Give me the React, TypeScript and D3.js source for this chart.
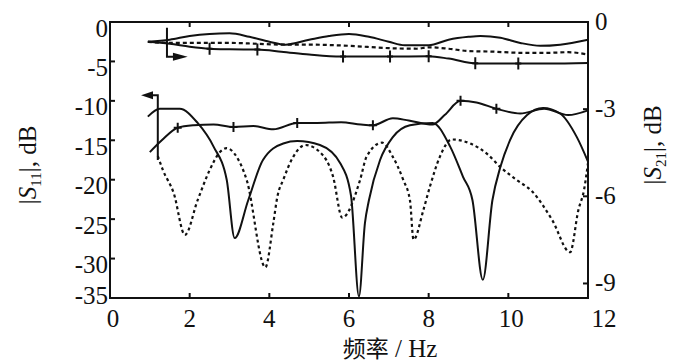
import React, { useRef, useEffect } from "react";
import * as d3 from "d3";

// |S11| (left axis, dB): [frequency, dB]
const s11Plain = [
  [0.95, -12.0], [1.25, -11.0], [1.75, -11.0], [2.2, -12.8], [2.6, -15.8],
  [2.93, -20.0], [3.13, -27.4], [3.47, -22.6], [3.84, -17.5],
  [4.35, -15.4], [4.7, -15.1], [5.27, -15.6], [5.78, -17.9], [6.05, -22.0],
  [6.25, -34.8], [6.4, -25.5], [6.5, -22.6], [6.78, -17.5], [7.1, -14.6],
  [7.53, -13.1], [8.1, -12.8], [8.54, -15.8], [8.86, -19.6], [9.1, -22.6],
  [9.36, -32.7], [9.6, -22.6], [9.8, -18.4], [10.04, -15.0], [10.47, -11.8],
  [10.87, -10.9], [11.3, -11.6], [11.72, -14.6], [12.0, -17.7],
];
const s11Dashed = [
  [1.2, -17.0], [1.33, -18.8], [1.6, -21.7], [1.88, -27.0], [2.2, -22.6],
  [2.5, -18.8], [2.76, -16.5], [2.93, -16.0], [3.18, -17.1], [3.43, -20.0],
  [3.9, -31.1], [4.1, -25.5], [4.2, -22.2], [4.35, -20.0], [4.6, -17.1],
  [4.9, -15.6], [5.27, -16.5], [5.6, -19.6], [5.83, -24.8],
  [6.28, -20.0], [6.44, -17.1], [6.83, -15.3], [7.1, -17.1], [7.36, -20.0],
  [7.53, -22.6], [7.62, -27.6], [7.87, -23.8], [8.03, -20.9], [8.28, -17.1],
  [8.58, -14.9], [9.04, -15.4], [9.46, -16.7], [9.8, -18.4], [10.2, -20.0],
  [10.6, -21.5], [11.1, -25.1], [11.55, -29.2], [11.76, -23.8], [11.9, -21.3],
  [12.0, -17.9],
];
const s11Cross = [
  [1.0, -16.5], [1.3, -15.0], [1.7, -13.4], [2.1, -13.1], [2.6, -13.0],
  [3.1, -13.3], [3.6, -13.2], [4.1, -13.6], [4.7, -12.8], [5.2, -12.8],
  [5.8, -12.7], [6.3, -13.0], [6.6, -13.1], [7.1, -12.2], [7.5, -12.5],
  [8.1, -13.0], [8.4, -11.8], [8.8, -10.0], [9.2, -10.2], [9.7, -11.0],
  [10.3, -11.6], [10.9, -11.0], [11.5, -11.8], [12.0, -11.2],
];
const s11CrossMarks = [1.7, 3.1, 4.7, 6.6, 8.8, 9.7];

// |S21| (right axis, dB)
const s21Plain = [
  [0.95, -0.68], [1.5, -0.61], [2.0, -0.48], [2.5, -0.41], [3.0, -0.39],
  [3.5, -0.51], [4.0, -0.68], [4.4, -0.78], [5.0, -0.61], [5.5, -0.48],
  [6.0, -0.41], [6.5, -0.51], [7.0, -0.68], [7.4, -0.8], [8.0, -0.8],
  [8.5, -0.61], [9.0, -0.51], [9.3, -0.48], [9.8, -0.54], [10.3, -0.72],
  [10.8, -0.82], [11.3, -0.78], [12.0, -0.61],
];
const s21Dashed = [
  [0.95, -0.68], [1.5, -0.72], [2.0, -0.72], [3.0, -0.72], [3.7, -0.75],
  [4.3, -0.78], [5.0, -0.78], [6.0, -0.82], [7.0, -0.9], [7.7, -0.92],
  [8.0, -0.87], [8.5, -0.92], [9.0, -1.0], [9.6, -1.02], [10.3, -1.06],
  [11.0, -1.06], [11.5, -1.04], [12.0, -1.12],
];
const s21Cross = [
  [0.95, -0.68], [1.5, -0.75], [2.0, -0.85], [2.5, -0.92], [3.0, -0.94],
  [3.7, -0.95], [4.3, -1.02], [5.0, -1.12], [5.8, -1.19], [7.0, -1.19],
  [8.0, -1.18], [8.5, -1.26], [9.2, -1.43], [10.2, -1.43], [11.0, -1.43],
  [12.0, -1.41],
];
const s21CrossMarks = [2.5, 3.7, 5.85, 7.03, 8.0, 9.17, 10.25];

const xTicks = [0, 2, 4, 6, 8, 10, 12];
const leftTicks = [0, -5, -10, -15, -20, -25, -30, -35];
const rightTicks = [0, -3, -6, -9];

const serif = "'Liberation Serif', 'Times New Roman', serif";

const App = () => {
  const svgRef = useRef(null);

  useEffect(() => {
    const svg = d3.select(svgRef.current);
    svg.selectAll("*").remove();

    // plot box
    const x = d3.scaleLinear().domain([0, 12]).range([110, 588]);
    const yL = d3.scaleLinear().domain([-35, 0]).range([298, 22]);
    const yR = d3.scaleLinear().domain([-9.5, 0]).range([298, 22]);

    const g = svg.append("g");

    // value of a series at f (for the marker positions)
    const valueAt = (s, f) => {
      const i = Math.max(1, Math.min(s.length - 1, d3.bisector((d) => d[0]).left(s, f)));
      const a = s[i - 1], b = s[i];
      return a[1] + ((f - a[0]) / (b[0] - a[0])) * (b[1] - a[1]);
    };

    const drawLine = (s, y, dash) => {
      const line = d3.line()
        .x((d) => x(d[0]))
        .y((d) => y(d[1]))
        .curve(d3.curveMonotoneX);
      g.append("path")
        .attr("d", line(s))
        .attr("fill", "none")
        .attr("stroke", "#111")
        .attr("stroke-width", dash ? 2.2 : 2)
        .attr("stroke-dasharray", dash || null)
        .attr("stroke-linejoin", "round");
    };

    const drawMarks = (s, marks, y, h, w) => {
      marks.forEach((f) => {
        const cx = x(f), cy = y(valueAt(s, f));
        g.append("path")
          .attr("d", `M${cx},${cy - h}V${cy + h}M${cx - w},${cy}H${cx + w}`)
          .attr("stroke", "#111")
          .attr("stroke-width", 2);
      });
    };

    // S21 group
    drawLine(s21Plain, yR);
    drawLine(s21Dashed, yR, "4,3");
    drawLine(s21Cross, yR);
    drawMarks(s21Cross, s21CrossMarks, yR, 6, 3);

    // S11 group
    drawLine(s11Plain, yL);
    drawLine(s11Dashed, yL, "3,3");
    drawLine(s11Cross, yL);
    drawMarks(s11Cross, s11CrossMarks, yL, 5, 4);

    // arrow telling S21 uses the right axis
    const ax = x(1.43);
    const ay = yR(-1.2);
    g.append("path")
      .attr("d", `M${ax},${yR(-0.2)}V${ay}H${x(1.6)}`)
      .attr("fill", "none")
      .attr("stroke", "#111")
      .attr("stroke-width", 2);
    g.append("path")
      .attr("d", `M${x(1.58)},${ay - 4}L${x(1.95)},${ay}L${x(1.58)},${ay + 4}Z`)
      .attr("fill", "#111");

    // arrow telling S11 uses the left axis
    const bx = x(1.2);
    const by = yL(-9.3);
    g.append("path")
      .attr("d", `M${bx},${yL(-17.5)}V${by}H${x(1.05)}`)
      .attr("fill", "none")
      .attr("stroke", "#111")
      .attr("stroke-width", 2);
    g.append("path")
      .attr("d", `M${x(1.08)},${by - 4}L${x(0.78)},${by}L${x(1.08)},${by + 4}Z`)
      .attr("fill", "#111");

    // frame
    svg.append("rect")
      .attr("x", x(0))
      .attr("y", yL(0))
      .attr("width", x(12) - x(0))
      .attr("height", yL(-35) - yL(0))
      .attr("fill", "none")
      .attr("stroke", "#111")
      .attr("stroke-width", 2);

    // inward ticks
    const ticks = svg.append("g").attr("stroke", "#111").attr("stroke-width", 2);
    xTicks.slice(1, -1).forEach((t) => {
      ticks.append("line").attr("x1", x(t)).attr("x2", x(t)).attr("y1", 298).attr("y2", 293);
      ticks.append("line").attr("x1", x(t)).attr("x2", x(t)).attr("y1", 22).attr("y2", 27);
    });
    leftTicks.slice(1, -1).forEach((t) => {
      ticks.append("line").attr("x1", 110).attr("x2", 115).attr("y1", yL(t)).attr("y2", yL(t));
    });
    rightTicks.slice(1).forEach((t) => {
      ticks.append("line").attr("x1", 588).attr("x2", 583).attr("y1", yR(t)).attr("y2", yR(t));
    });

    // tick labels
    const labels = svg.append("g")
      .attr("font-family", serif)
      .attr("font-size", 25)
      .attr("fill", "#111");
    labels.selectAll(".xl")
      .data(xTicks)
      .join("text")
      .attr("x", (d) => x(d) + (d === 12 ? 16 : d === 10 ? 3 : d === 0 ? 3 : 0))
      .attr("y", 327)
      .attr("text-anchor", "middle")
      .text((d) => d);
    labels.selectAll(".ll")
      .data(leftTicks)
      .join("text")
      .attr("x", 108)
      .attr("y", (d) => yL(d) + (d === -35 ? -3 : 6))
      .attr("text-anchor", "end")
      .attr("dominant-baseline", "central")
      .text((d) => d);
    labels.selectAll(".rl")
      .data(rightTicks)
      .join("text")
      .attr("x", 595)
      .attr("y", (d) => yR(d) - 1)
      .attr("text-anchor", "start")
      .attr("dominant-baseline", "central")
      .text((d) => d);

    // axis titles
    const yTitle = (cx, cy, sub) => {
      const t = svg.append("text")
        .attr("transform", `translate(${cx},${cy}) rotate(-90)`)
        .attr("text-anchor", "middle")
        .attr("font-family", serif)
        .attr("font-size", 25)
        .attr("fill", "#111");
      t.append("tspan").text("|");
      t.append("tspan").attr("font-style", "italic").text("S");
      t.append("tspan").attr("font-size", 15).attr("dy", 5).text(sub);
      t.append("tspan").attr("dy", -5).text("|, dB");
    };
    yTitle(36, 165, "11");
    yTitle(661, 145, "21");

    const xt = svg.append("text")
      .attr("x", 390)
      .attr("y", 357)
      .attr("text-anchor", "middle")
      .attr("font-size", 25)
      .attr("fill", "#111");
    xt.append("tspan").attr("font-family", "'Noto Sans CJK SC', sans-serif").attr("font-size", 23).text("频率");
    xt.append("tspan").attr("font-family", serif).text(" / Hz");
  }, []);

  return (
    <div style={{ position: "fixed", left: 0, top: 0, background: "#fff" }}>
      <svg ref={svgRef} width='682' height='363' />
    </div>
  );
};

export default App;
